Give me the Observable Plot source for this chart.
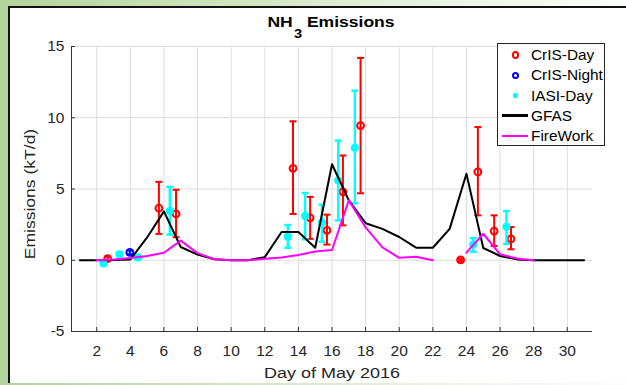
<!DOCTYPE html>
<html><head><meta charset="utf-8">
<script src="https://cdn.jsdelivr.net/npm/d3@7"></script>
<script src="https://cdn.jsdelivr.net/npm/@observablehq/plot@0.6"></script>
<style>
html,body{margin:0;padding:0;}
body{width:626px;height:385px;overflow:hidden;position:relative;
  background:linear-gradient(90deg,#b2d49a 0%,#cde4bd 35%,#eef6e8 75%,#fbfdf9 100%);
  font-family:"Liberation Sans",Arial,sans-serif;color:#262626;}
#panel{position:absolute;left:8px;top:6px;width:640px;height:375px;background:#fff;border-left:2px solid #111;border-top:2px solid #111;}
#chart{position:absolute;left:0;top:0;}
#title{position:absolute;left:331px;top:13.3px;line-height:18px;font-size:15.5px;font-weight:bold;color:#000;white-space:nowrap;transform:translateX(-50%) scaleX(1.13);}
#title .sub{font-size:13px;position:relative;top:11px;margin:0 0 0 1px;}
#xlabel{position:absolute;left:332px;top:364px;line-height:18px;font-size:15.5px;white-space:nowrap;transform:translateX(-50%) scaleX(1.16);}
#ylabel{position:absolute;left:29.5px;top:194px;line-height:18px;font-size:15.5px;white-space:nowrap;transform:translate(-50%,-50%) rotate(-90deg) scaleX(1.13);}
#legend{position:absolute;left:497px;top:43px;width:106px;height:101px;border:1px solid #262626;background:#fff;}
.row{position:absolute;left:0;width:106px;height:20px;}
.row .txt{position:absolute;left:33px;top:0;line-height:20px;font-size:14px;color:#000;white-space:nowrap;transform-origin:left center;transform:scaleX(1.1);}
.sw{position:absolute;box-sizing:border-box;}
</style></head>
<body>
<div id="panel"></div>
<div id="chart"></div>
<div id="title">NH<span class="sub">3</span> Emissions</div>
<div id="xlabel">Day of May 2016</div>
<div id="ylabel">Emissions (kT/d)</div>
<div id="legend"></div>
<script>
// ---- data ----
const days = [1,2,3,4,5,6,7,8,9,10,11,12,13,14,15,16,17,18,19,20,21,22,23,24,25,26,27,28,29,30,31];
const gfasValues = [0,0,0.02,0.05,1.6,3.43,0.93,0.4,0.07,0,0,0.22,1.98,1.98,0.88,6.74,4.2,2.6,2.2,1.63,0.88,0.88,2.2,6.07,0.86,0.3,0.06,0,0,0,0];
const fireworkValues = [null,0,0.05,0.15,0.3,0.53,1.38,0.5,0.07,0,0,0.1,0.2,0.37,0.62,0.72,4.2,2.3,0.9,0.17,0.25,0,null,0.53,1.86,0.42,0.12,0,null,null,null];

const crisDayX    = [2.65, 5.7, 6.72, 13.68, 14.7, 15.7, 16.65, 17.7, 23.65, 24.68, 25.65, 26.65];
const crisDayY    = [0.12, 3.65, 3.25, 6.45, 2.98, 2.1, 4.8, 9.45, 0.02, 6.2, 2.05, 1.5];
const crisDayLow  = [0.0, 1.85, 1.62, 3.25, 1.5, 1.1, 2.45, 4.7, -0.06, 3.15, 1.0, 0.77];
const crisDayHigh = [0.25, 5.5, 4.95, 9.75, 4.45, 3.2, 7.35, 14.2, 0.1, 9.35, 3.15, 2.33];

const crisNightX    = [3.97];
const crisNightY    = [0.55];
const crisNightLow  = [0.42];
const crisNightHigh = [0.68];

const iasiDayX    = [2.4, 3.35, 4.45, 6.35, 13.37, 14.4, 15.4, 16.37, 17.36, 24.4, 26.38];
const iasiDayY    = [-0.22, 0.42, 0.2, 3.45, 1.65, 3.1, 2.65, 5.6, 7.9, 1.1, 2.35];
const iasiDayLow  = [-0.32, 0.3, 0.08, 1.8, 0.88, 1.47, 1.3, 2.8, 4.0, 0.6, 1.15];
const iasiDayHigh = [-0.12, 0.55, 0.35, 5.15, 2.47, 4.72, 3.9, 8.4, 11.9, 1.55, 3.45];

const xTicks = [2,4,6,8,10,12,14,16,18,20,22,24,26,28,30];
const yTicks = [-5,0,5,10,15];
const seriesNames = ["CrIS-Day","CrIS-Night","IASI-Day","GFAS","FireWork"];
const seriesColors = ["#ff0000","#0000ff","#00ffff","#000000","#ff00ff"];

// ---- tables ----
const gfas = days.map((d,i) => ({day: d, value: gfasValues[i]}));
const firework = days.map((d,i) => ({day: d, value: fireworkValues[i]}));
const pts = (X,Y,L,H) => X.map((x,i) => ({day: x, value: Y[i], lo: L[i], hi: H[i]}));
const crisDay = pts(crisDayX, crisDayY, crisDayLow, crisDayHigh);
const crisNight = pts(crisNightX, crisNightY, crisNightLow, crisNightHigh);
const iasiDay = pts(iasiDayX, iasiDayY, iasiDayLow, iasiDayHigh);

const cap = {draw(ctx, size){ const w = Math.sqrt(size/Math.PI); ctx.moveTo(-w,0); ctx.lineTo(w,0); }};
const errMarks = (data, color, sw) => [
  Plot.ruleX(data, {x: "day", y1: "lo", y2: "hi", stroke: color, strokeWidth: sw}),
  Plot.dot(data, {x: "day", y: "lo", symbol: cap, r: 3.5, stroke: color, strokeWidth: sw, fill: "none"}),
  Plot.dot(data, {x: "day", y: "hi", symbol: cap, r: 3.5, stroke: color, strokeWidth: sw, fill: "none"})
];

const axisColor = "#333";
const plot = Plot.plot({
  width: 626, height: 385,
  marginLeft: 71, marginRight: 34, marginTop: 46, marginBottom: 54,
  style: {background: "transparent", fontFamily: "'Liberation Sans', Arial, sans-serif", fontSize: "15px", color: "#262626"},
  x: {domain: [0.5, 31.5]},
  y: {domain: [-5, 15]},
  marks: [
    Plot.gridX(xTicks, {stroke: "#dedede", strokeOpacity: 1}),
    Plot.gridY(yTicks, {stroke: "#dedede", strokeOpacity: 1}),
    Plot.axisX(xTicks, {tickSize: 0, tickPadding: 13, label: null, fontSize: 15.5}),
    Plot.axisY(yTicks, {tickSize: 0, tickPadding: 7, label: null, fontSize: 15.5, tickFormat: d => String(d)}),
    Plot.ruleX(xTicks, {y1: -5, y2: -4.72, stroke: axisColor}),
    Plot.ruleY(yTicks, {x1: 0.5, x2: 0.74, stroke: axisColor}),
    Plot.ruleX([0.5], {stroke: axisColor}),
    Plot.ruleY([-5], {stroke: axisColor}),
    ...errMarks(crisDay, seriesColors[0], 2),
    Plot.dot(crisDay, {x: "day", y: "value", r: 3.4, stroke: seriesColors[0], strokeWidth: 2, fill: "none"}),
    ...errMarks(crisNight, seriesColors[1], 2),
    Plot.dot(crisNight, {x: "day", y: "value", r: 3.4, stroke: seriesColors[1], strokeWidth: 2, fill: "none"}),
    ...errMarks(iasiDay, seriesColors[2], 2.4),
    Plot.dot(iasiDay, {x: "day", y: "value", r: 3.3, stroke: seriesColors[2], strokeWidth: 1.5, fill: seriesColors[2]}),
    Plot.line(gfas, {x: "day", y: "value", stroke: seriesColors[3], strokeWidth: 2}),
    Plot.line(firework, {x: "day", y: "value", stroke: seriesColors[4], strokeWidth: 2})
  ]
});
document.getElementById("chart").appendChild(plot);

// ---- legend ----
const legend = document.getElementById("legend");
seriesNames.forEach((name, i) => {
  const row = document.createElement("div");
  row.className = "row";
  row.style.top = (1.2 + i * 20.2) + "px";
  const sw = document.createElement("div");
  sw.className = "sw";
  const c = seriesColors[i];
  if (i < 2) {
    Object.assign(sw.style, {left: "13.5px", top: "6.3px", width: "7.2px", height: "7.2px", border: `2.2px solid ${c}`, borderRadius: "50%"});
  } else if (i === 2) {
    Object.assign(sw.style, {left: "14.5px", top: "7.4px", width: "5.2px", height: "5.2px", background: c, borderRadius: "1.5px"});
  } else {
    Object.assign(sw.style, {left: "3.5px", top: "8.7px", width: "26px", height: "2.4px", background: c});
  }
  row.appendChild(sw);
  const t = document.createElement("div");
  t.className = "txt";
  t.textContent = name;
  row.appendChild(t);
  legend.appendChild(row);
});
</script>
</body></html>
